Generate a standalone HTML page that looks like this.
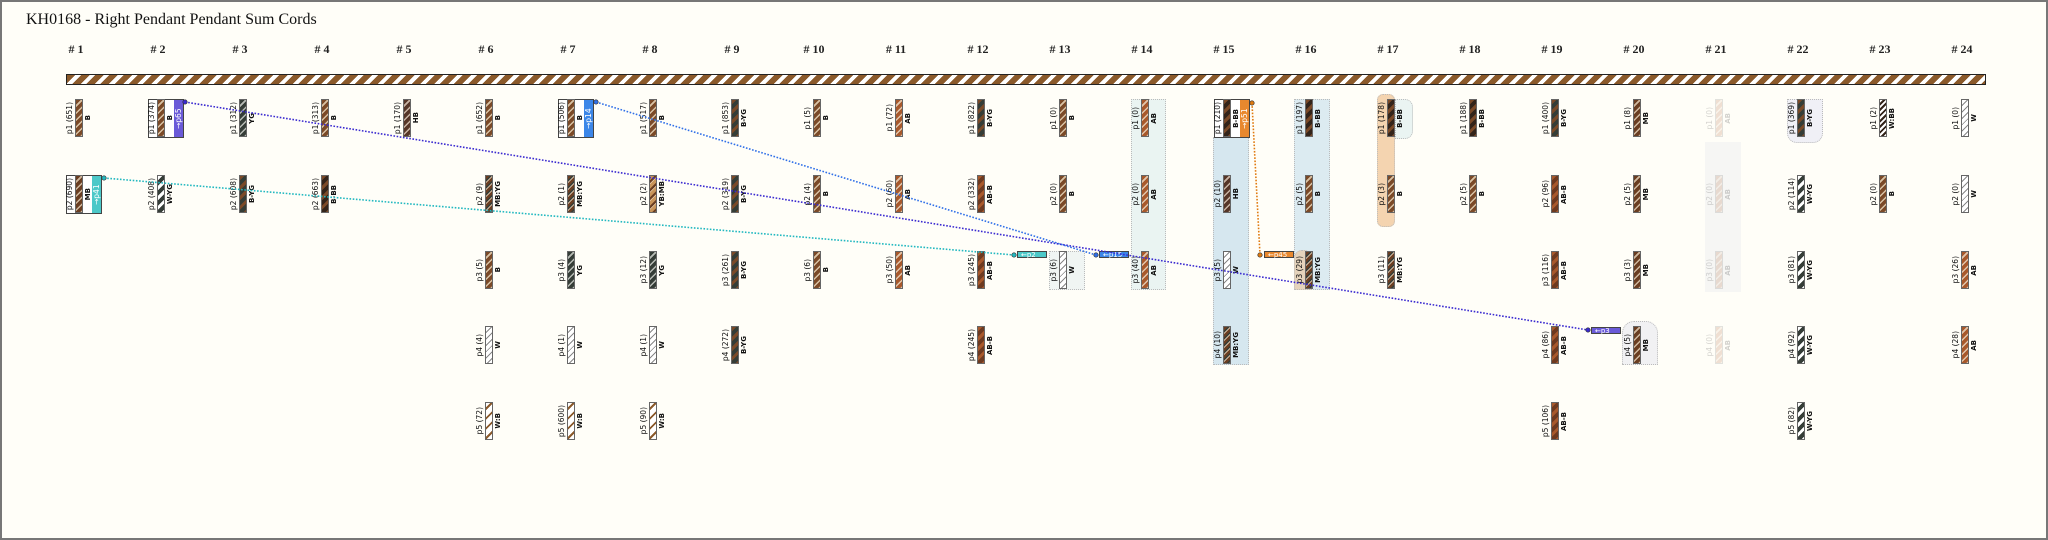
<!DOCTYPE html>
<html><head><meta charset="utf-8"><style>
body{margin:0;}
#w{position:relative;width:2048px;height:540px;background:#fffef8;overflow:hidden;box-sizing:border-box;border:2px solid #777;font-family:"DejaVu Sans","Liberation Sans",sans-serif;}
.t{position:absolute;left:24px;top:9px;font:16px "Liberation Serif",serif;color:#111;}
.h{position:absolute;top:40px;width:40px;margin-left:-20px;text-align:center;font:bold 12px "Liberation Serif",serif;color:#222;}
.bar{position:absolute;left:64px;top:72px;width:1918px;height:9px;border:1.5px solid #222;background:repeating-linear-gradient(135deg,#8b5a2b 0 6px,#fff 6px 10px);}
.g{position:absolute;height:38px;display:flex;align-items:center;}
.g i{font-style:normal;writing-mode:vertical-rl;transform:rotate(180deg);font-size:7.5px;line-height:9px;width:9px;color:#111;white-space:nowrap;}
.g i.l{margin-right:1px;margin-left:3px;}
.g i.r{font-weight:bold;font-size:7px;margin-left:1px;}
.g b{display:block;width:6px;height:36px;border:1px solid #666;}
.f{opacity:.18}
.box{position:absolute;height:37px;width:34px;background:#fff;border:1px solid #444;}
.st{position:absolute;width:9px;height:37px;color:#fff;font-size:7.5px;writing-mode:vertical-rl;transform:rotate(180deg);text-align:center;line-height:9px;}
.tag{position:absolute;height:7px;width:30px;color:#fff;font-size:7px;line-height:7px;padding-left:3px;box-sizing:border-box;border:1px solid #444;}
.bg{position:absolute;border:1px dotted #bbb;box-sizing:border-box;}
.B{background:repeating-linear-gradient(135deg,#7b4a28 0 3.5px,#d9c3a6 3.5px 5px);}
.AB{background:repeating-linear-gradient(135deg,#a8592c 0 3.5px,#e2c7ad 3.5px 5px);}
.MB{background:repeating-linear-gradient(135deg,#6a3e22 0 3.5px,#d0b9a0 3.5px 5px);}
.HB{background:repeating-linear-gradient(135deg,#563628 0 3.5px,#c8b4a4 3.5px 5px);}
.YG{background:repeating-linear-gradient(135deg,#353d37 0 3.5px,#b8bcb6 3.5px 5px);}
.BYG{background:repeating-linear-gradient(135deg,#7b4a28 0 3px,#353d37 3px 7px);}
.BBB{background:repeating-linear-gradient(135deg,#7b4a28 0 3px,#33241a 3px 7px);}
.ABB{background:repeating-linear-gradient(135deg,#a8592c 0 3px,#6e3a20 3px 7px);}
.W{background:repeating-linear-gradient(135deg,#fff 0 3.5px,#888 3.5px 4.5px);}
.WYG{background:repeating-linear-gradient(135deg,#fff 0 3px,#353d37 3px 7px);}
.WB{background:repeating-linear-gradient(135deg,#fff 0 3px,#8b5a2b 3px 5px,#fff 5px 7px);}
.YBMB{background:repeating-linear-gradient(135deg,#c8955a 0 3px,#6a3e22 3px 5px,#e8d0b0 5px 6px);}
.MBYG{background:repeating-linear-gradient(135deg,#6a3e22 0 2.5px,#353d37 2.5px 4px,#d0b9a0 4px 5px);}
.WBB{background:repeating-linear-gradient(135deg,#fff 0 2px,#33241a 2px 4px);}
</style></head><body><div id="w">
<div class="t">KH0168 - Right Pendant Pendant Sum Cords</div>

<div class="h" style="left:74px"># 1</div><div class="h" style="left:156px"># 2</div><div class="h" style="left:238px"># 3</div><div class="h" style="left:320px"># 4</div><div class="h" style="left:402px"># 5</div><div class="h" style="left:484px"># 6</div><div class="h" style="left:566px"># 7</div><div class="h" style="left:648px"># 8</div><div class="h" style="left:730px"># 9</div><div class="h" style="left:812px"># 10</div><div class="h" style="left:894px"># 11</div><div class="h" style="left:976px"># 12</div><div class="h" style="left:1058px"># 13</div><div class="h" style="left:1140px"># 14</div><div class="h" style="left:1222px"># 15</div><div class="h" style="left:1304px"># 16</div><div class="h" style="left:1386px"># 17</div><div class="h" style="left:1468px"># 18</div><div class="h" style="left:1550px"># 19</div><div class="h" style="left:1632px"># 20</div><div class="h" style="left:1714px"># 21</div><div class="h" style="left:1796px"># 22</div><div class="h" style="left:1878px"># 23</div><div class="h" style="left:1960px"># 24</div>
<div class="bar"></div>

<!-- backgrounds -->
<div class="bg" style="left:1129px;top:97px;width:35px;height:191px;background:#eaf4f2"></div>
<div class="bg" style="left:1211px;top:135px;width:36px;height:228px;background:#d6e7ef"></div>
<div class="bg" style="left:1292px;top:97px;width:36px;height:191px;background:#dcebf1"></div>
<div class="bg" style="left:1292px;top:248px;width:18px;height:40px;background:#e5d3bb;border-radius:8px 8px 0 0"></div>
<div class="bg" style="left:1375px;top:92px;width:18px;height:133px;background:#f4d4b0;border-radius:6px"></div>
<div class="bg" style="left:1393px;top:97px;width:18px;height:40px;background:#eaf4f2;border-radius:0 8px 8px 0"></div>
<div class="bg" style="left:1047px;top:249px;width:36px;height:39px;background:#f0f5f3"></div>
<div class="bg" style="left:1620px;top:319px;width:36px;height:44px;background:#f1f1f3;border-radius:12px 12px 0 0"></div>
<div class="bg" style="left:1785px;top:97px;width:36px;height:44px;background:#f0f0f6;border-radius:0 0 10px 10px"></div>
<div class="bg" style="left:1703px;top:140px;width:36px;height:150px;background:#f6f6f4;border:none"></div>

<!-- boxes -->
<div class="box" style="left:146px;top:97px"></div><div class="st" style="left:172px;top:98px;background:#6a5ad8">→p65</div>
<div class="box" style="left:64px;top:173px"></div><div class="st" style="left:90px;top:174px;background:#4cc8c8">→p41</div>
<div class="box" style="left:556px;top:97px"></div><div class="st" style="left:582px;top:98px;background:#3c86e8">→p14</div>
<div class="box" style="left:1212px;top:97px"></div><div class="st" style="left:1238px;top:98px;background:#e8882e">→p51</div>

<!-- col1 -->
<div class="g" style="left:60px;top:97px"><i class="l">p1 (651)</i><b class="B"></b><i class="r">B</i></div>
<div class="g" style="left:60px;top:173px"><i class="l">p2 (690)</i><b class="MB"></b><i class="r">MB</i></div>
<!-- col2 -->
<div class="g" style="left:142px;top:97px"><i class="l">p1 (374)</i><b class="B"></b><i class="r">B</i></div>
<div class="g" style="left:142px;top:173px"><i class="l">p2 (408)</i><b class="WYG"></b><i class="r">W-YG</i></div>
<!-- col3 -->
<div class="g" style="left:224px;top:97px"><i class="l">p1 (312)</i><b class="YG"></b><i class="r">YG</i></div>
<div class="g" style="left:224px;top:173px"><i class="l">p2 (608)</i><b class="BYG"></b><i class="r">B-YG</i></div>
<!-- col4 -->
<div class="g" style="left:306px;top:97px"><i class="l">p1 (313)</i><b class="B"></b><i class="r">B</i></div>
<div class="g" style="left:306px;top:173px"><i class="l">p2 (663)</i><b class="BBB"></b><i class="r">B-BB</i></div>
<!-- col5 -->
<div class="g" style="left:388px;top:97px"><i class="l">p1 (170)</i><b class="HB"></b><i class="r">HB</i></div>
<!-- col6 -->
<div class="g" style="left:470px;top:97px"><i class="l">p1 (652)</i><b class="B"></b><i class="r">B</i></div>
<div class="g" style="left:470px;top:173px"><i class="l">p2 (9)</i><b class="MBYG"></b><i class="r">MB:YG</i></div>
<div class="g" style="left:470px;top:249px"><i class="l">p3 (5)</i><b class="B"></b><i class="r">B</i></div>
<div class="g" style="left:470px;top:324px"><i class="l">p4 (4)</i><b class="W"></b><i class="r">W</i></div>
<div class="g" style="left:470px;top:400px"><i class="l">p5 (72)</i><b class="WB"></b><i class="r">W:B</i></div>
<!-- col7 -->
<div class="g" style="left:552px;top:97px"><i class="l">p1 (506)</i><b class="B"></b><i class="r">B</i></div>
<div class="g" style="left:552px;top:173px"><i class="l">p2 (1)</i><b class="MBYG"></b><i class="r">MB:YG</i></div>
<div class="g" style="left:552px;top:249px"><i class="l">p3 (4)</i><b class="YG"></b><i class="r">YG</i></div>
<div class="g" style="left:552px;top:324px"><i class="l">p4 (1)</i><b class="W"></b><i class="r">W</i></div>
<div class="g" style="left:552px;top:400px"><i class="l">p5 (600)</i><b class="WB"></b><i class="r">W:B</i></div>
<!-- col8 -->
<div class="g" style="left:634px;top:97px"><i class="l">p1 (517)</i><b class="B"></b><i class="r">B</i></div>
<div class="g" style="left:634px;top:173px"><i class="l">p2 (2)</i><b class="YBMB"></b><i class="r">YB:MB</i></div>
<div class="g" style="left:634px;top:249px"><i class="l">p3 (12)</i><b class="YG"></b><i class="r">YG</i></div>
<div class="g" style="left:634px;top:324px"><i class="l">p4 (1)</i><b class="W"></b><i class="r">W</i></div>
<div class="g" style="left:634px;top:400px"><i class="l">p5 (90)</i><b class="WB"></b><i class="r">W:B</i></div>
<!-- col9 -->
<div class="g" style="left:716px;top:97px"><i class="l">p1 (853)</i><b class="BYG"></b><i class="r">B-YG</i></div>
<div class="g" style="left:716px;top:173px"><i class="l">p2 (319)</i><b class="BYG"></b><i class="r">B-YG</i></div>
<div class="g" style="left:716px;top:249px"><i class="l">p3 (261)</i><b class="BYG"></b><i class="r">B-YG</i></div>
<div class="g" style="left:716px;top:324px"><i class="l">p4 (272)</i><b class="BYG"></b><i class="r">B-YG</i></div>
<!-- col10 -->
<div class="g" style="left:798px;top:97px"><i class="l">p1 (5)</i><b class="B"></b><i class="r">B</i></div>
<div class="g" style="left:798px;top:173px"><i class="l">p2 (4)</i><b class="B"></b><i class="r">B</i></div>
<div class="g" style="left:798px;top:249px"><i class="l">p3 (6)</i><b class="B"></b><i class="r">B</i></div>
<!-- col11 -->
<div class="g" style="left:880px;top:97px"><i class="l">p1 (72)</i><b class="AB"></b><i class="r">AB</i></div>
<div class="g" style="left:880px;top:173px"><i class="l">p2 (60)</i><b class="AB"></b><i class="r">AB</i></div>
<div class="g" style="left:880px;top:249px"><i class="l">p3 (50)</i><b class="AB"></b><i class="r">AB</i></div>
<!-- col12 -->
<div class="g" style="left:962px;top:97px"><i class="l">p1 (822)</i><b class="BYG"></b><i class="r">B-YG</i></div>
<div class="g" style="left:962px;top:173px"><i class="l">p2 (332)</i><b class="ABB"></b><i class="r">AB-B</i></div>
<div class="g" style="left:962px;top:249px"><i class="l">p3 (245)</i><b class="ABB"></b><i class="r">AB-B</i></div>
<div class="g" style="left:962px;top:324px"><i class="l">p4 (245)</i><b class="ABB"></b><i class="r">AB-B</i></div>
<!-- col13 -->
<div class="g" style="left:1044px;top:97px"><i class="l">p1 (0)</i><b class="B"></b><i class="r">B</i></div>
<div class="g" style="left:1044px;top:173px"><i class="l">p2 (0)</i><b class="B"></b><i class="r">B</i></div>
<div class="g" style="left:1044px;top:249px"><i class="l">p3 (6)</i><b class="W"></b><i class="r">W</i></div>
<!-- col14 -->
<div class="g" style="left:1126px;top:97px"><i class="l">p1 (0)</i><b class="AB"></b><i class="r">AB</i></div>
<div class="g" style="left:1126px;top:173px"><i class="l">p2 (0)</i><b class="AB"></b><i class="r">AB</i></div>
<div class="g" style="left:1126px;top:249px"><i class="l">p3 (40)</i><b class="AB"></b><i class="r">AB</i></div>
<!-- col15 -->
<div class="g" style="left:1208px;top:97px"><i class="l">p1 (210)</i><b class="BBB"></b><i class="r">B-BB</i></div>
<div class="g" style="left:1208px;top:173px"><i class="l">p2 (10)</i><b class="HB"></b><i class="r">HB</i></div>
<div class="g" style="left:1208px;top:249px"><i class="l">p3 (5)</i><b class="W"></b><i class="r">W</i></div>
<div class="g" style="left:1208px;top:324px"><i class="l">p4 (10)</i><b class="MBYG"></b><i class="r">MB:YG</i></div>
<!-- col16 -->
<div class="g" style="left:1290px;top:97px"><i class="l">p1 (197)</i><b class="BBB"></b><i class="r">B-BB</i></div>
<div class="g" style="left:1290px;top:173px"><i class="l">p2 (5)</i><b class="B"></b><i class="r">B</i></div>
<div class="g" style="left:1290px;top:249px"><i class="l">p3 (29)</i><b class="MBYG"></b><i class="r">MB:YG</i></div>
<!-- col17 -->
<div class="g" style="left:1372px;top:97px"><i class="l">p1 (178)</i><b class="BBB"></b><i class="r">B-BB</i></div>
<div class="g" style="left:1372px;top:173px"><i class="l">p2 (3)</i><b class="B"></b><i class="r">B</i></div>
<div class="g" style="left:1372px;top:249px"><i class="l">p3 (11)</i><b class="MBYG"></b><i class="r">MB:YG</i></div>
<!-- col18 -->
<div class="g" style="left:1454px;top:97px"><i class="l">p1 (188)</i><b class="BBB"></b><i class="r">B-BB</i></div>
<div class="g" style="left:1454px;top:173px"><i class="l">p2 (5)</i><b class="B"></b><i class="r">B</i></div>
<!-- col19 -->
<div class="g" style="left:1536px;top:97px"><i class="l">p1 (400)</i><b class="BYG"></b><i class="r">B-YG</i></div>
<div class="g" style="left:1536px;top:173px"><i class="l">p2 (96)</i><b class="ABB"></b><i class="r">AB-B</i></div>
<div class="g" style="left:1536px;top:249px"><i class="l">p3 (116)</i><b class="ABB"></b><i class="r">AB-B</i></div>
<div class="g" style="left:1536px;top:324px"><i class="l">p4 (86)</i><b class="ABB"></b><i class="r">AB-B</i></div>
<div class="g" style="left:1536px;top:400px"><i class="l">p5 (106)</i><b class="ABB"></b><i class="r">AB-B</i></div>
<!-- col20 -->
<div class="g" style="left:1618px;top:97px"><i class="l">p1 (8)</i><b class="MB"></b><i class="r">MB</i></div>
<div class="g" style="left:1618px;top:173px"><i class="l">p2 (5)</i><b class="MB"></b><i class="r">MB</i></div>
<div class="g" style="left:1618px;top:249px"><i class="l">p3 (3)</i><b class="MB"></b><i class="r">MB</i></div>
<div class="g" style="left:1618px;top:324px"><i class="l">p4 (5)</i><b class="MB"></b><i class="r">MB</i></div>
<!-- col21 faded -->
<div class="g f" style="left:1700px;top:97px"><i class="l">p1 (0)</i><b class="AB"></b><i class="r">AB</i></div>
<div class="g f" style="left:1700px;top:173px"><i class="l">p2 (0)</i><b class="AB"></b><i class="r">AB</i></div>
<div class="g f" style="left:1700px;top:249px"><i class="l">p3 (0)</i><b class="AB"></b><i class="r">AB</i></div>
<div class="g f" style="left:1700px;top:324px"><i class="l">p4 (0)</i><b class="AB"></b><i class="r">AB</i></div>
<!-- col22 -->
<div class="g" style="left:1782px;top:97px"><i class="l">p1 (369)</i><b class="BYG"></b><i class="r">B-YG</i></div>
<div class="g" style="left:1782px;top:173px"><i class="l">p2 (114)</i><b class="WYG"></b><i class="r">W-YG</i></div>
<div class="g" style="left:1782px;top:249px"><i class="l">p3 (81)</i><b class="WYG"></b><i class="r">W-YG</i></div>
<div class="g" style="left:1782px;top:324px"><i class="l">p4 (92)</i><b class="WYG"></b><i class="r">W-YG</i></div>
<div class="g" style="left:1782px;top:400px"><i class="l">p5 (82)</i><b class="WYG"></b><i class="r">W-YG</i></div>
<!-- col23 -->
<div class="g" style="left:1864px;top:97px"><i class="l">p1 (2)</i><b class="WBB"></b><i class="r">W:BB</i></div>
<div class="g" style="left:1864px;top:173px"><i class="l">p2 (0)</i><b class="B"></b><i class="r">B</i></div>
<!-- col24 -->
<div class="g" style="left:1946px;top:97px"><i class="l">p1 (0)</i><b class="W"></b><i class="r">W</i></div>
<div class="g" style="left:1946px;top:173px"><i class="l">p2 (0)</i><b class="W"></b><i class="r">W</i></div>
<div class="g" style="left:1946px;top:249px"><i class="l">p3 (26)</i><b class="AB"></b><i class="r">AB</i></div>
<div class="g" style="left:1946px;top:324px"><i class="l">p4 (28)</i><b class="AB"></b><i class="r">AB</i></div>

<!-- tags -->
<div class="tag" style="left:1015px;top:249px;background:#4cc8c8">←p2</div>
<div class="tag" style="left:1097px;top:249px;background:#3c86e8">←p15</div>
<div class="tag" style="left:1262px;top:249px;background:#e8882e">←p45</div>
<div class="tag" style="left:1589px;top:325px;background:#6a5ad8">←p3</div>

<svg style="position:absolute;left:0;top:0" width="2048" height="540">
<g fill="none" stroke-width="1.6" stroke-dasharray="1.6 1.6">
<line x1="183" y1="100" x2="1586" y2="328" stroke="#3a2ad0"/>
<line x1="102" y1="176" x2="1012" y2="253" stroke="#22b8c0"/>
<line x1="594" y1="100" x2="1094" y2="253" stroke="#3070e8"/>
<line x1="1250" y1="101" x2="1258" y2="253" stroke="#e07a10"/>
</g>
<g stroke="#333" stroke-width=".7">
<circle cx="183" cy="100" r="2.2" fill="#3a2ad0"/><circle cx="1586" cy="328" r="2.2" fill="#3a2ad0"/>
<circle cx="102" cy="176" r="2.2" fill="#22b8c0"/><circle cx="1012" cy="253" r="2.2" fill="#22b8c0"/>
<circle cx="594" cy="100" r="2.2" fill="#3070e8"/><circle cx="1094" cy="253" r="2.2" fill="#3070e8"/>
<circle cx="1250" cy="101" r="2.2" fill="#e07a10"/><circle cx="1258" cy="253" r="2.2" fill="#e07a10"/>
</g>
</svg>
</div></body></html>
